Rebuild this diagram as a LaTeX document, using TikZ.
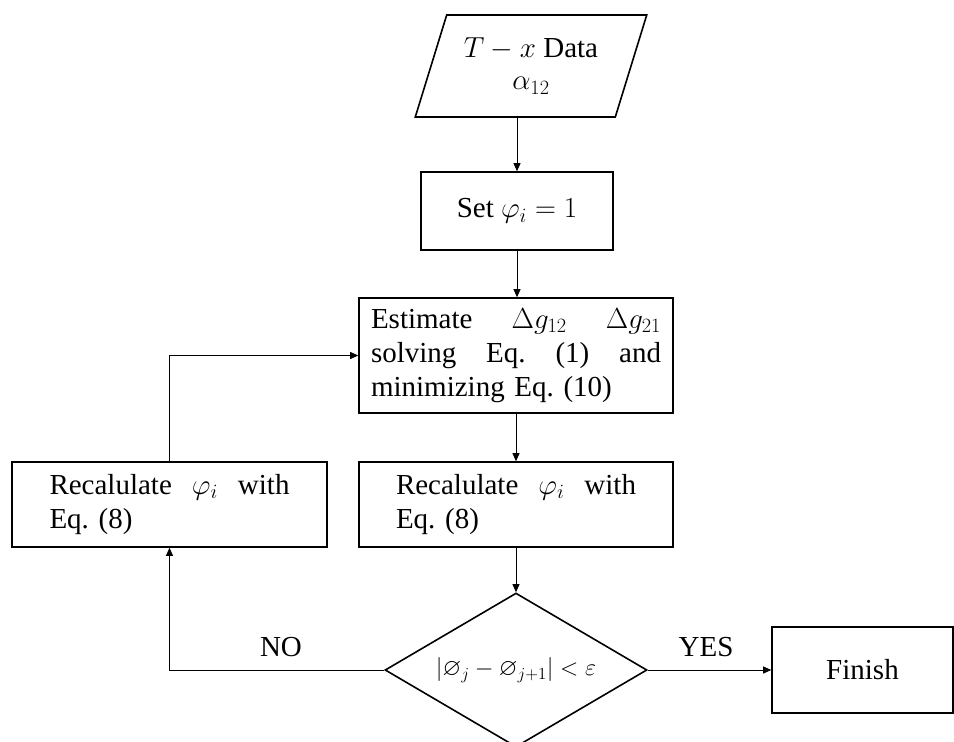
\RequirePackage{fix-cm}
\documentclass[tikz,border=0pt]{standalone}
\usepackage{amssymb}
\usepackage{fontspec}
\setmainfont{Liberation Serif}
\usetikzlibrary{shapes.geometric,arrows.meta}

\tikzset{
  box/.style={draw, line width=1.6pt, inner sep=0pt, align=center},
  io/.style={box, trapezium, trapezium left angle=66, trapezium right angle=114,
             trapezium stretches=true},
  test/.style={box, diamond, aspect=1.7},
  flow/.style={line width=0.8pt, -{Triangle[length=8pt,width=7pt]}},
  tag/.style={inner sep=0pt}
}

\begin{document}
\frenchspacing
\begin{tikzpicture}[x=1pt, y=-1pt, font=\fontsize{29}{34}\selectfont]
  \clip (0,0) rectangle (954,742);

  % input data
  \node[io, minimum width=232pt, minimum height=102pt] (data) at (531,66)
    {$T-x$ Data\\[-2pt]$\alpha_{12}$};

  % initialisation
  \node[box, minimum width=192pt, minimum height=78pt] (set) at (517,211)
    {Set $\varphi_i = 1$};

  % parameter estimation
  \node[box, minimum width=314pt, minimum height=115pt, text width=290pt, align=left] (est) at (516,355.5)
    {Estimate\hfill$\Delta g_{12}$\hfill$\Delta g_{21}$\\
     solving\hfill Eq.\hfill(1)\hfill and\\
     minimizing Eq. (10)};

  % recalculation boxes
  \node[box, minimum width=314pt, minimum height=85pt, text width=240pt, align=left] (recR) at (516,504.5)
    {Recalulate\hfill$\varphi_i$\hfill with\\Eq. (8)};
  \node[box, minimum width=315pt, minimum height=85pt, text width=240pt, align=left] (recL) at (169.5,504.5)
    {Recalulate\hfill$\varphi_i$\hfill with\\Eq. (8)};

  % convergence test
  \node[test, minimum width=262pt, minimum height=154pt, font=\fontsize{24}{28}\selectfont] (dec) at (516,670)
    {$\left|\varnothing_j - \varnothing_{j+1}\right| < \varepsilon$};

  % end
  \node[box, minimum width=181pt, minimum height=86pt] (fin) at (862.5,670) {Finish};

  % connectors
  \draw[flow] (set.north |- data.south) -- (set.north);
  \draw[flow] (set.south) -- (set.south |- est.north);
  \draw[flow] (est.south) -- (recR.north);
  \draw[flow] (recR.south) -- (dec.north);
  \draw[flow] (dec.east) -- (fin.west);
  \draw[flow] (dec.west) -| (recL.south);
  \draw[flow] (recL.north) |- (est.west);

  % branch labels
  \node[tag] (yes) at (706,647) {YES};
  \node[tag] (no) at (281,647) {NO};
\end{tikzpicture}
\end{document}
